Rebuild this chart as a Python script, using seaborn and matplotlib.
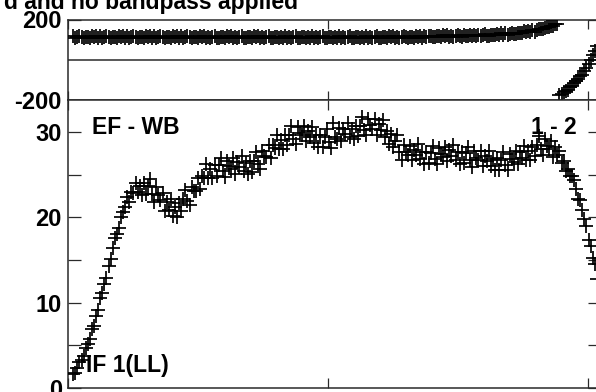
import numpy as np
import pandas as pd
import seaborn as sns
import matplotlib
matplotlib.use("Agg")
import matplotlib.pyplot as plt

# ---- data ----
channels = list(range(5, 510, 2))

amplitude = [
    1.6, 1.7, 2.4, 3.1, 3.3, 3.7, 4.7, 5.2, 5.8, 6.9,
    7.3, 8.4, 9.1, 10.5, 11.1, 12.2, 12.9, 14.3, 15.1, 16.4,
    17.6, 18.0, 18.7, 20.0, 20.6, 21.2, 22.4, 21.8, 23.0, 22.9,
    24.0, 23.0, 23.7, 22.6, 24.0, 22.7, 23.7, 24.5, 22.7, 21.8,
    23.5, 22.6, 22.0, 22.9, 20.8, 21.8, 20.9, 22.1, 20.2, 21.2,
    20.0, 21.7, 20.7, 22.1, 23.2, 21.9, 21.4, 23.6, 23.1, 23.1,
    24.6, 23.3, 24.9, 24.6, 26.2, 24.6, 25.7, 24.6, 26.1, 24.9,
    26.1, 27.0, 25.4, 24.7, 26.6, 26.0, 25.7, 26.9, 25.1, 26.5,
    25.9, 27.2, 25.4, 26.4, 25.1, 26.6, 25.3, 26.6, 27.6, 26.2,
    25.7, 27.8, 27.2, 27.1, 28.5, 27.0, 28.5, 28.1, 29.6, 28.0,
    29.1, 28.0, 29.6, 28.5, 29.7, 30.7, 29.2, 28.6, 30.6, 29.9,
    29.6, 30.7, 28.9, 30.1, 29.4, 30.6, 28.7, 29.6, 28.2, 29.6,
    28.3, 29.4, 30.3, 28.8, 28.1, 31.0, 29.4, 29.2, 30.5, 28.9,
    30.3, 29.8, 31.1, 29.4, 30.4, 29.2, 30.7, 29.5, 30.7, 31.7,
    30.2, 29.6, 31.5, 30.8, 30.4, 31.5, 29.7, 30.9, 30.2, 31.4,
    29.4, 30.1, 28.6, 29.8, 28.2, 29.0, 29.6, 27.7, 26.7, 28.5,
    27.6, 27.3, 28.4, 26.7, 27.9, 27.3, 28.6, 26.8, 27.6, 26.3,
    27.7, 26.4, 27.5, 28.4, 26.8, 26.2, 28.1, 27.4, 27.1, 28.3,
    26.6, 27.9, 27.2, 28.5, 26.7, 27.6, 26.3, 27.7, 26.4, 27.5,
    28.3, 26.7, 25.9, 27.8, 27.0, 26.7, 27.8, 26.0, 27.2, 26.6,
    27.8, 26.0, 26.8, 25.5, 26.9, 25.6, 26.7, 27.6, 26.1, 25.5,
    27.4, 26.8, 26.5, 27.8, 26.2, 27.6, 27.0, 28.4, 26.7, 27.8,
    26.7, 28.3, 27.2, 28.5, 29.5, 28.0, 27.3, 29.2, 28.4, 28.0,
    29.0, 27.1, 28.2, 27.3, 27.8, 26.4, 26.6, 25.4, 25.7, 24.9,
    24.8, 24.4, 23.3, 22.2, 22.0, 20.9, 19.8, 19.0, 17.4, 16.6,
    15.2, 14.5, 12.8,
]

phase = [
    116, 109, 114, 118, 111, 108, 115, 113, 110, 117, 112, 118, 109,
    116, 109, 114, 118, 111, 108, 115, 113, 110, 117, 112, 118, 109,
    116, 109, 114, 118, 111, 108, 115, 113, 110, 117, 112, 118, 109,
    116, 109, 114, 118, 111, 108, 115, 113, 110, 117, 112, 118, 109,
    116, 109, 114, 118, 111, 108,
    114, 112, 109, 116, 111, 117, 108, 115, 108, 113, 117, 110, 107,
    114, 112, 109, 116, 111, 117, 108, 115, 108, 113, 117, 110, 107,
    114, 112, 109, 116, 111, 117,
    107, 114, 107, 112, 116, 109, 106, 113, 111, 108, 115, 110, 116,
    107, 114, 107, 112, 116, 109, 106, 113, 111, 108, 115, 110, 116,
    107, 114, 107, 112, 116, 109, 106,
    113, 111, 108, 115, 110, 116, 107, 114, 107, 112, 116, 109, 106,
    113, 111, 108, 115, 110, 116, 107,
    115, 108, 113, 117, 110, 107, 114, 112, 109, 116, 111, 117, 108,
    115, 108,
    113, 117, 111, 108, 115, 113, 110, 118, 113, 119, 110, 118, 111,
    116, 120, 113, 111, 118, 116, 113, 121, 116, 122, 113, 120, 114,
    119, 123, 116, 114, 121, 119, 116, 124, 119, 125, 116, 123, 117,
    122,
    126, 120, 118, 125, 124, 122, 129, 125, 132, 123, 131, 125, 130,
    135, 129,
    127, 135, 135, 133, 141, 138, 145, 138, 146, 140,
    148, 152, 151, 153, 159, 161, 162, 170, 170, 177, 176,
    -176, -172, -161, -155, -149, -136, -128, -118, -104, -96,
    -82, -76, -58, -43, -20, -2, 22, 44, 70,
]

phase_ticks = [-200, 200]
amp_ticks = [0, 5, 10, 15, 20, 25, 30]
amp_labels = ["0", "", "10", "", "20", "", "30"]
chan_ticks = [0, 250, 500]

title_text = "d and no bandpass applied"
source_label = "EF - WB"
baseline_label = "1 - 2"
if_label = "IF 1(LL)"

df = pd.DataFrame({"channel": channels, "amplitude": amplitude, "phase": phase})

# ---- style ----
sns.set_style("white")
plt.rcParams["font.family"] = ["Liberation Sans", "DejaVu Sans"]
plt.rcParams["font.weight"] = "bold"

W, H = 596, 392
fig = plt.figure(figsize=(W / 100, H / 100), dpi=100)

def fx(px):
    return px / W

def fy(py):
    return 1 - py / H

left_px, right_px = 68, 600
ax_ph = fig.add_axes([fx(left_px), fy(100), fx(right_px - left_px), (100 - 19.5) / H])
ax_am = fig.add_axes([fx(left_px), fy(388), fx(right_px - left_px), (388 - 100) / H])

frame_col = "#2a2a2a"
mk = dict(marker="+", s=100, color="black", linewidth=1.25, legend=False, zorder=3)

sns.scatterplot(data=df, x="channel", y="phase", ax=ax_ph, **mk)
sns.scatterplot(data=df, x="channel", y="amplitude", ax=ax_am, **mk)

for ax in (ax_ph, ax_am):
    ax.set_xlim(0, 512)
    ax.set_xlabel("")
    ax.set_ylabel("")
    for sp in ax.spines.values():
        sp.set_visible(True)
        sp.set_color(frame_col)
        sp.set_linewidth(1.1)
    ax.set_xticks(chan_ticks)
    ax.tick_params(axis="x", direction="in", top=True, bottom=True,
                   labelbottom=False, length=7.5, width=0.9, color=frame_col)
    ax.tick_params(axis="y", direction="in", left=True, right=True,
                   length=9, width=0.9, color=frame_col,
                   labelsize=17, pad=4.5, labelcolor="black")

ax_ph.set_ylim(-200, 200)
ax_ph.set_yticks(phase_ticks)
ax_ph.set_yticklabels([str(t) for t in phase_ticks], fontweight="bold")
ax_ph.axhline(0, color=frame_col, linewidth=1.1, zorder=1)
ax_ph.tick_params(axis="x", length=6.5)

ax_am.set_ylim(0, 33.75)
ax_am.set_yticks(amp_ticks)
ax_am.set_yticklabels(amp_labels, fontweight="bold")

tk = dict(fontsize=16.5, fontweight="bold", color="black", zorder=1)
span = right_px - left_px
ax_am.text((92 - left_px) / span, (388 - 134) / 288,
           source_label, transform=ax_am.transAxes, ha="left", va="baseline", **tk)
ax_am.text((577 - left_px) / span, (388 - 134) / 288,
           baseline_label, transform=ax_am.transAxes, ha="right", va="baseline", **tk)
ax_am.text((86.5 - left_px) / span, (388 - 372) / 288,
           if_label, transform=ax_am.transAxes, ha="left", va="baseline", **tk)

fig.text(fx(298), fy(9.5), title_text, ha="right", va="baseline",
         fontsize=16.5, fontweight="bold", color="black")

fig.savefig("out.png", dpi=100)
